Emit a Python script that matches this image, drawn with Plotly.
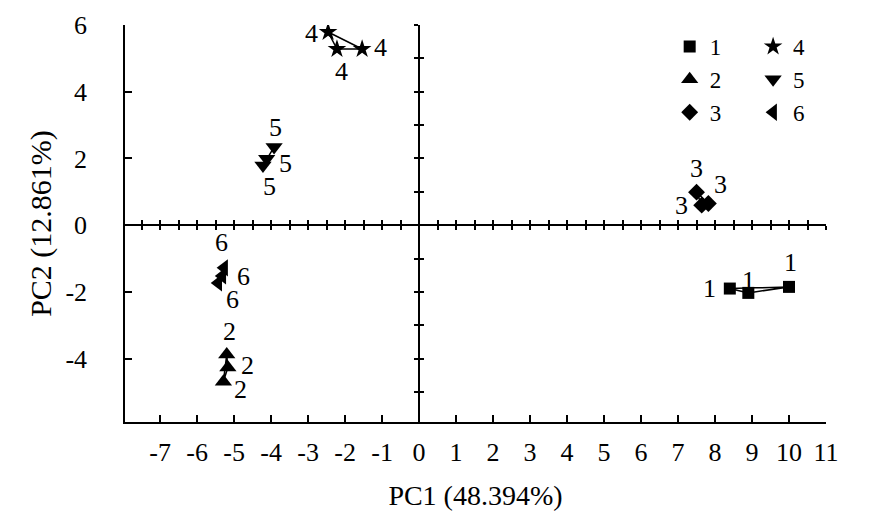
import plotly.graph_objects as go

# Scores PCA par groupe
groupes = ['1', '2', '3', '4', '5', '6']
pc1 = {
    '1': [8.4, 8.9, 10.0],
    '2': [-5.2, -5.17, -5.29],
    '3': [7.5, 7.82, 7.64],
    '4': [-2.46, -2.22, -1.54],
    '5': [-3.92, -4.12, -4.22],
    '6': [-5.27, -5.32, -5.43],
}
pc2 = {
    '1': [-1.9, -2.03, -1.85],
    '2': [-3.88, -4.27, -4.69],
    '3': [0.99, 0.65, 0.6],
    '4': [5.79, 5.28, 5.28],
    '5': [2.34, 1.99, 1.79],
    '6': [-1.28, -1.52, -1.73],
}
# graduations (trait d'union comme sur l'original)
x_ticks = list(range(-7, 12))
x_ticklabels = [str(v) for v in x_ticks]
y_ticks = [-4, -2, 0, 2, 4, 6]
y_ticklabels = [str(v) for v in y_ticks]

symboles = {'1': 'square', '2': 'triangle-up', '3': 'diamond',
            '4': 'star', '5': 'triangle-down', '6': 'triangle-left'}
tailles = {'1': 12, '2': 15, '3': 13, '4': 14, '5': 15, '6': 15}
# décalage (px) des étiquettes par rapport au point : (dx, dy vers le haut)
decalages = {
    '1': [(-20, 0), (0, 12), (1, 24)],
    '2': [(3, 23), (20, 2), (17, -8)],
    '3': [(0, 24), (12, 19), (-20, 0)],
    '4': [(-17, -1), (5, -22), (18, 2)],
    '5': [(1, 20), (19, -5), (7, -21)],
    '6': [(-3, 25), (21, -1), (14, -17)],
}

x_range = [-7.95, 11]
y_range = [-5.9, 6]
police = 'Liberation Serif, Times New Roman, serif'
taille_police = 26

fig = go.Figure()

for g in groupes:
    # triangle fermé reliant les trois répétitions
    fig.add_trace(go.Scatter(
        x=pc1[g] + pc1[g][:1], y=pc2[g] + pc2[g][:1],
        mode='lines', line=dict(color='black', width=1.5),
        showlegend=False, hoverinfo='skip'
    ))
    fig.add_trace(go.Scatter(
        x=pc1[g], y=pc2[g],
        mode='markers',
        marker=dict(symbol=symboles[g], size=tailles[g], color='black'),
        name=g,
        legend='legend' if g in ('1', '2', '3') else 'legend2'
    ))
    for xv, yv, (dx, dy) in zip(pc1[g], pc2[g], decalages[g]):
        fig.add_annotation(x=xv, y=yv, text=g, showarrow=False,
                           xshift=dx, yshift=dy,
                           font=dict(family=police, size=taille_police,
                                     color='black'))

# axes passant par l'origine (position en fraction du domaine)
pos_x0 = (0 - x_range[0]) / (x_range[1] - x_range[0])
pos_y0 = (0 - y_range[0]) / (y_range[1] - y_range[0])

axe_commun = dict(showline=True, linecolor='black', linewidth=1.5,
                  showgrid=False, zeroline=False, tickcolor='black',
                  tickwidth=1.5)

leg = dict(font=dict(family=police, size=23, color='black'),
           bgcolor='rgba(0,0,0,0)', yanchor='top', y=1.0,
           tracegroupgap=0, itemwidth=30)

fig.update_layout(
    width=870, height=526,
    margin=dict(l=117, r=52, t=17, b=112),
    plot_bgcolor='white', paper_bgcolor='white',
    font=dict(family=police, size=taille_police, color='black'),
    xaxis=dict(axe_commun, range=x_range, tickvals=x_ticks,
               ticktext=x_ticklabels, automargin='bottom',
               ticks='inside', ticklen=7, ticklabelstandoff=6,
               title=dict(text='PC1 (48.394%)', standoff=19,
                          font=dict(family=police, size=28))),
    yaxis=dict(axe_commun, range=y_range, tickvals=y_ticks,
               ticktext=y_ticklabels, automargin='left',
               ticks='inside', ticklen=7, ticklabelstandoff=31,
               title=dict(text='PC2 (12.861%)', standoff=5,
                          font=dict(family=police, size=30))),
    xaxis2=dict(axe_commun, overlaying='x', anchor='free', position=pos_y0,
                range=x_range, tickmode='linear', tick0=0, dtick=0.5,
                ticks='outside', ticklen=4, showticklabels=False),
    xaxis3=dict(axe_commun, overlaying='x', anchor='free', position=pos_y0,
                range=x_range, tickmode='linear', tick0=0, dtick=0.5,
                ticks='inside', ticklen=4, showticklabels=False),
    yaxis2=dict(axe_commun, overlaying='y', anchor='free', position=pos_x0,
                range=y_range, tickmode='linear', tick0=0, dtick=1,
                ticks='outside', ticklen=4, showticklabels=False),
    yaxis3=dict(axe_commun, overlaying='y', anchor='free', position=pos_x0,
                range=y_range, tickmode='linear', tick0=0, dtick=1,
                ticks='inside', ticklen=4, showticklabels=False),
    legend=dict(leg, x=0.777),
    legend2=dict(leg, x=0.896),
)

# traces invisibles pour activer les axes centraux
for xa, ya in [('x2', 'y2'), ('x3', 'y3')]:
    fig.add_trace(go.Scatter(x=[None], y=[None], xaxis=xa, yaxis=ya,
                             showlegend=False, hoverinfo='skip'))

fig.write_html('out.html')
